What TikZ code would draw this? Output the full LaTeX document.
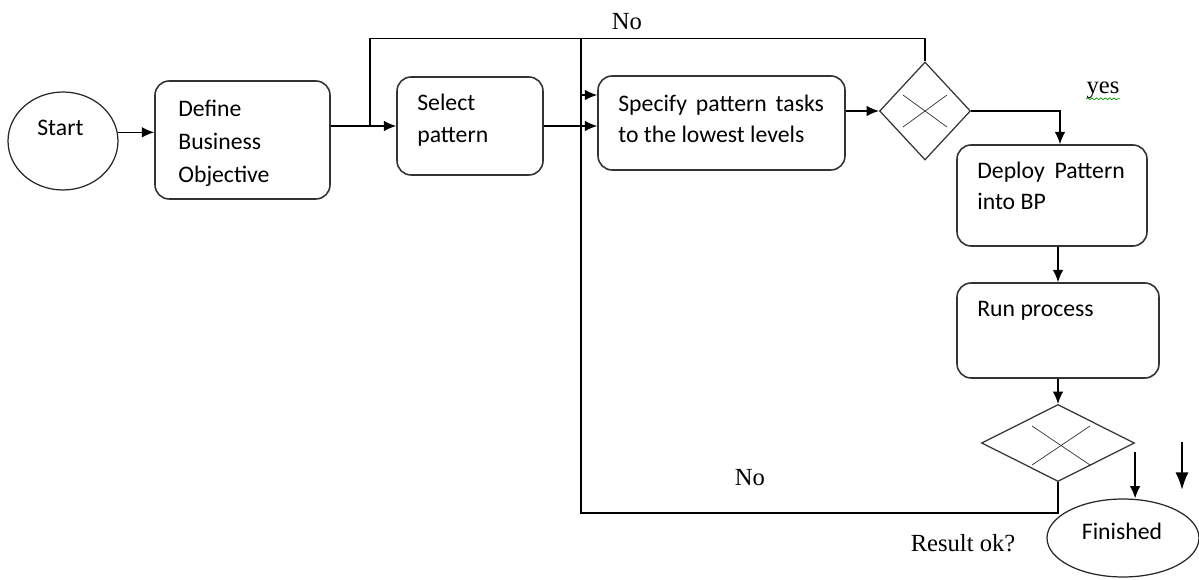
\documentclass[tikz,border=0pt]{standalone}
\usepackage{fontspec}
\newfontfamily\boxfont{Carlito}
\newfontfamily\lblfont{Liberation Serif}
\usetikzlibrary{arrows.meta,shapes.geometric,decorations.pathmorphing}

\begin{document}
\begin{tikzpicture}[x=0.02cm,y=-0.02cm,>={Latex[length=7pt,width=6pt]},
  task/.style={draw=black!80,line width=0.9pt,rounded corners=8pt,inner sep=0pt},
  gate/.style={draw=black!80,line width=0.7pt,diamond,inner sep=0pt},
  term/.style={draw=black!85,line width=0.7pt,ellipse,inner sep=0pt},
  txt/.style={inner sep=0pt,anchor=west,align=left,font=\boxfont\fontsize{13.5}{18}\selectfont},
  lbl/.style={inner sep=0pt,font=\lblfont\fontsize{14}{16}\selectfont},
  flow/.style={line width=0.8pt}]
  \useasboundingbox (0,0) rectangle (1199,580);

  % boxes and gates
  \node[term,minimum width=2.2cm,minimum height=1.96cm] (start) at (63,141) {};
  \node[txt] (starttxt) at (37,128) {Start};
  \node[task,minimum width=3.5cm,minimum height=2.36cm] (define) at (242.5,140) {};
  \node[txt,font=\boxfont\fontsize{13.5}{18.7}\selectfont] (definetxt) at (178,143) {Define\\Business\\Objective};
  \node[task,minimum width=2.92cm,minimum height=1.96cm] (select) at (470,126) {};
  \node[txt] (selecttxt) at (417,120) {Select\\pattern};
  \node[task,minimum width=4.94cm,minimum height=1.88cm] (specify) at (721.5,123) {};
  \node[txt] (specifytxt) at (618,119) {Specify\hspace{2pt} pattern\hspace{2pt} tasks\\to the lowest levels};
  \node[gate,minimum width=1.82cm,minimum height=1.96cm] (dec1) at (925,111) {};
  \node[task,minimum width=3.8cm,minimum height=2.02cm] (deploy) at (1052,195.5) {};
  \node[txt] (deploytxt) at (977,186) {Deploy\hspace{2.5pt} Pattern\\into BP};
  \node[task,minimum width=4.04cm,minimum height=1.9cm] (run) at (1058,330.5) {};
  \node[txt] (runtxt) at (977,311) {Run process};
  \node[gate,minimum width=3.06cm,minimum height=1.54cm] (dec2) at (1058,443) {};
  \node[term,minimum width=3.04cm,minimum height=1.56cm] (finished) at (1123,538) {};
  \node[txt,anchor=center] (finishedtxt) at (1122,531) {Finished};

  % crosses in the gates
  \draw[black!80] ([shift={(-22,-16)}]dec1.center) -- ([shift={(22,16)}]dec1.center);
  \draw[black!80] ([shift={(-22,16)}]dec1.center) -- ([shift={(22,-16)}]dec1.center);
  \draw[black!80] ([shift={(-26,-17)}]dec2.center) -- ([shift={(32,22)}]dec2.center);
  \draw[black!80] ([shift={(-26,22)}]dec2.center) -- ([shift={(32,-17)}]dec2.center);

  % labels
  \node[lbl] (noup) at (627,22) {No};
  \node[lbl] (yes) at (1103,90) {yes};
  \draw[green!60!black,decorate,decoration={snake,amplitude=0.5pt,segment length=2.5pt}]
    (yes.south west) -- (yes.south east);
  \node[lbl] (nodown) at (750,478) {No};
  \node[lbl] (resultok) at (963,543) {Result ok?};

  % connectors
  \coordinate (jsel) at (370,126);
  \coordinate (jtop) at (581,39);
  \coordinate (jspec) at (581,95);
  \coordinate (loosetop) at (1182,442);
  \coordinate (loosebot) at (1182,490);
  \draw[->,flow] (start.9) -- (start.9 -| define.west);
  \draw[->,flow] (define.east |- select.west) -- (select.west);
  \draw[flow] (dec1.north) -- ++(0,-23) -| (jsel);
  \draw[->,flow] (select.east) -- (select.east -| specify.west);
  \draw[flow] (dec2.south) -- ++(0,31) -| (jtop);
  \draw[->,flow] (jspec) -- (jspec -| specify.west);
  \draw[->,flow] (specify.east |- dec1.west) -- (dec1.west);
  \draw[->,flow] (dec1.east) -| ([shift={(8,0)}]deploy.north);
  \draw[->,flow] (run.north |- deploy.south) -- (run.north);
  \draw[->,flow] (run.south) -- (dec2.north);
  \draw[->,flow] ([shift={(0,9)}]dec2.east) -- (dec2.east |- finished.north);
  \draw[-{Latex[length=10pt,width=7.5pt]},line width=1.3pt] (loosetop) -- (loosebot);
\end{tikzpicture}
\end{document}
